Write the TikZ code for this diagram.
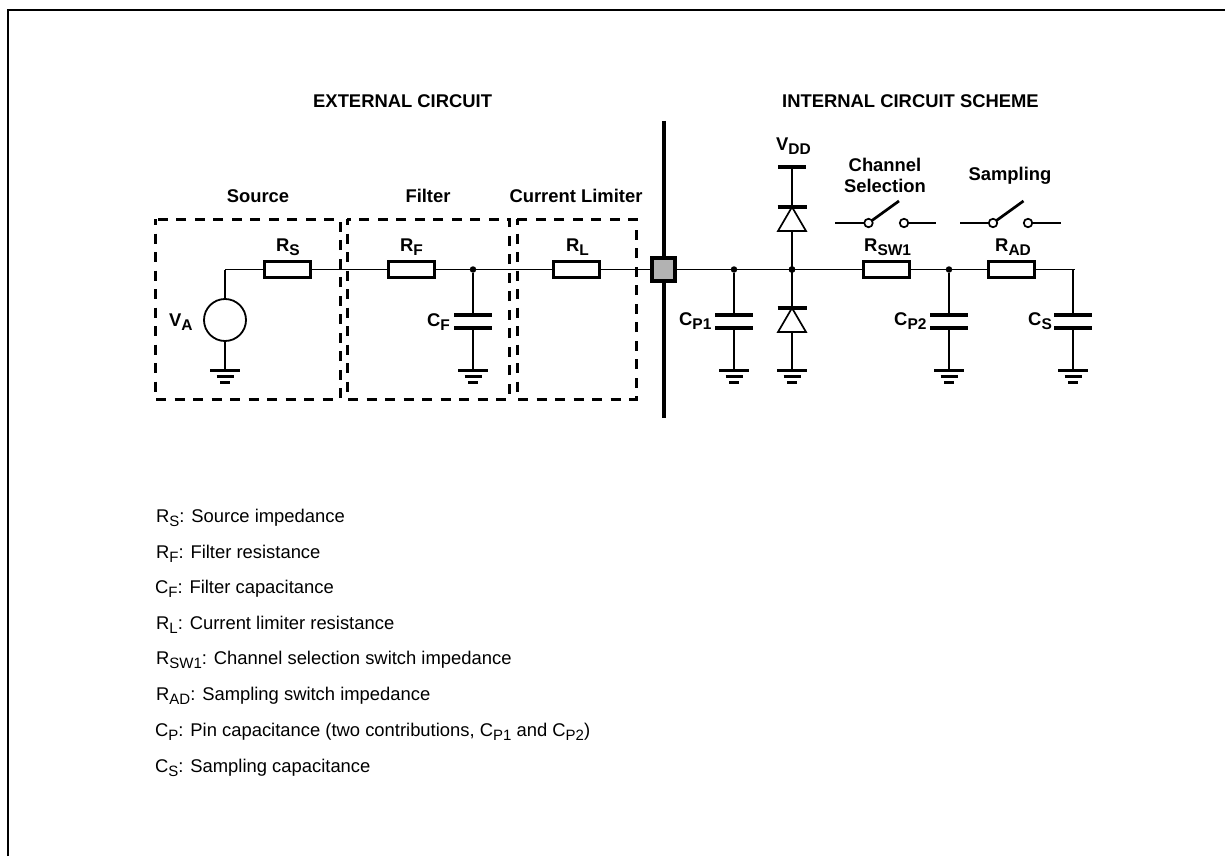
\documentclass[tikz,border=0pt]{standalone}
\usepackage{fontspec}
\setmainfont{Liberation Sans}
\usetikzlibrary{calc}
\newcommand{\bsub}[1]{\raisebox{-0.26em}{\fontsize{15.5}{16}\selectfont #1}}
\newcommand{\lsub}[1]{\raisebox{-0.26em}{\fontsize{15}{16}\selectfont #1}}
\tikzset{
  x=1pt,y=-1pt,
  wire/.style={line width=1.1pt,black},
  frame/.style={line width=2pt,black},
  resbox/.style={draw,line width=3pt,fill=white,minimum width=46.5pt,minimum height=16.5pt,inner sep=0pt,outer sep=0pt},
  zone/.style={line width=3pt,dash pattern=on 10pt off 8.5pt,dash phase=4pt},
  junction/.style={circle,fill=black,inner sep=0pt,minimum size=6.5pt},
  plate/.style={line width=4pt},
  railbar/.style={line width=3.5pt},
  contact/.style={circle,draw,line width=1.7pt,fill=white,inner sep=0pt,minimum size=8.5pt,outer sep=0pt},
  lever/.style={line width=2.7pt},
  head/.style={font=\fontsize{18.4}{21}\selectfont\bfseries,align=center,inner sep=0pt},
  item/.style={font=\fontsize{18.4}{21}\selectfont,anchor=base west,inner sep=0pt},
  gnd1/.style={line width=3pt},
  diodetri/.style={line width=1.7pt,fill=white,line join=miter},
}
\newcommand{\gnd}[1]{%
  \draw[gnd1] ([xshift=-15pt]#1) -- ([xshift=15pt]#1);
  \draw[gnd1] ([xshift=-8.5pt,yshift=-6.5pt]#1) -- ([xshift=8.5pt,yshift=-6.5pt]#1);
  \draw[gnd1] ([xshift=-5pt,yshift=-12.5pt]#1) -- ([xshift=5pt,yshift=-12.5pt]#1);
}
\newcommand{\capac}[2]{%
  \coordinate (#1top) at (#2,315);
  \coordinate (#1bot) at (#2,328);
  \draw[plate] ([xshift=-19pt]#1top) -- ([xshift=19pt]#1top);
  \draw[plate] ([xshift=-19pt]#1bot) -- ([xshift=19pt]#1bot);
  \coordinate (#1gnd) at (#2,370);
  \draw[wire] (#1bot) -- (#1gnd);
  \gnd{#1gnd}
}
\newcommand{\swtch}[5]{% name, xl, c1, c2, xr
  \coordinate (#1l) at (#2,223);
  \coordinate (#1r) at (#5,223);
  \node[contact] (#1a) at (#3,223) {};
  \node[contact] (#1b) at (#4,223) {};
  \coordinate (#1tip) at ($(#3,201)+(30.5,0)$);
  \draw[wire] (#1l) -- (#1a);
  \draw[wire] (#1b) -- (#1r);
  \draw[lever] (#1a) -- (#1tip);
}
\begin{document}
\begin{tikzpicture}
\useasboundingbox (0,0) rectangle (1225,856);
\fill[white] (0,0) rectangle (1225,856);
\coordinate (fa) at (8,856);
\coordinate (fb) at (8,10);
\coordinate (fc) at (1225,10);
\draw[frame] (fa) -- (fb) -- (fc);

% headings
\node[head,anchor=west] (hext) at (313,101) {EXTERNAL CIRCUIT};
\node[head,anchor=west] (hint) at (782,101) {INTERNAL CIRCUIT SCHEME};
\node[head] (hsrc) at (258,196) {Source};
\node[head] (hfil) at (428,196) {Filter};
\node[head] (hlim) at (576,196) {Current Limiter};
\node[head] (hch) at (885,175) {Channel\\Selection};
\node[head] (hsam) at (1010,176) {Sampling};

% zones
\draw[zone] (155,219) rectangle (340,399);
\draw[zone] (347,219) rectangle (509,399);
\draw[zone] (517,219) rectangle (636,399);

% separator and pad
\coordinate (sept) at (664,121);
\coordinate (sepb) at (664,418);
\draw[line width=4pt] (sept) -- (sepb);

% wires
\coordinate (vtop) at (225,269.5);
\coordinate (vbot) at (225,370);
\coordinate (wend) at (1075,269.5);
\node[draw,line width=4pt,fill=black!30,minimum width=23pt,minimum height=23pt,inner sep=0pt,outer sep=0pt] (pad) at (663.5,269.5) {};
\node[junction] (d1) at (473,269.5) {};
\node[junction] (d2) at (734,269.5) {};
\node[junction] (d3) at (792,269.5) {};
\node[junction] (d4) at (949,269.5) {};
\coordinate (cst) at (1073,269.5);

\draw[wire] (vtop) -- (pad.west);
\draw[wire] (pad.east) -- (wend);
\draw[wire] (vtop) -- (225,298.5);

% resistors
\node[resbox] (rs) at (287.5,269.5) {};
\node[resbox] (rf) at (411.5,269.5) {};
\node[resbox] (rl) at (576.5,269.5) {};
\node[resbox] (rsw) at (886.5,269.5) {};
\node[resbox] (rad) at (1011.5,269.5) {};

% source
\node[circle,draw,line width=1.8pt,fill=white,minimum size=42pt,inner sep=0pt,outer sep=0pt] (va) at (225,320) {};
\draw[wire] (va.south) -- (vbot);
\gnd{vbot}

% capacitors
\capac{cf}{473}
\capac{cpa}{734}
\capac{cpb}{949}
\capac{cs}{1073}
\draw[wire] (d1) -- (cftop);
\draw[wire] (d2) -- (cpatop);
\draw[wire] (d4) -- (cpbtop);
\draw[wire] (cst) -- (cstop);

% diodes
\coordinate (vdd) at (792,167);
\coordinate (dua) at (792,207);
\coordinate (dla) at (792,308);
\coordinate (dgnd) at (792,370);
\draw[wire] (vdd) -- (dgnd);
\draw[railbar] (778,167) -- (806,167);
\draw[diodetri] (dua) -- (778,231) -- (806,231) -- cycle;
\draw[railbar] (777.5,207) -- (806.5,207);
\draw[diodetri] (dla) -- (778,332) -- (806,332) -- cycle;
\draw[railbar] (777.5,308) -- (806.5,308);
\gnd{dgnd}
\node[junction] at (d3) {};

% switches
\swtch{sa}{835}{868.5}{904}{936}
\swtch{sb}{960}{993}{1028}{1061}

% component labels
\node[head,anchor=base west] (lva) at (169,326) {V\bsub{A}};
\node[head,anchor=base west] (lrs) at (276,251) {R\bsub{S}};
\node[head,anchor=base west] (lrf) at (400,251) {R\bsub{F}};
\node[head,anchor=base west] (lrl) at (566,251) {R\bsub{L}};
\node[head,anchor=base west] (lcf) at (427,326) {C\bsub{F}};
\node[head,anchor=base west] (lcp1) at (679,325) {C\bsub{P1}};
\node[head,anchor=base west] (lvdd) at (776,150) {V\bsub{DD}};
\node[head,anchor=base west] (lcp2) at (894,325) {C\bsub{P2}};
\node[head,anchor=base west] (lcs) at (1028,325) {C\bsub{S}};
\node[head,anchor=base west] (lrsw) at (864,251) {R\bsub{SW1}};
\node[head,anchor=base west] (lrad) at (995,251) {R\bsub{AD}};

% legend
\node[item] (i1) at (156,522) {R\lsub{S}: Source impedance};
\node[item] (i2) at (156,558) {R\lsub{F}: Filter resistance};
\node[item] (i3) at (155,593) {C\lsub{F}: Filter capacitance};
\node[item] (i4) at (156,629) {R\lsub{L}: Current limiter resistance};
\node[item] (i5) at (156,664) {R\lsub{SW1}: Channel selection switch impedance};
\node[item] (i6) at (156,700) {R\lsub{AD}: Sampling switch impedance};
\node[item] (i7) at (155,736) {C\lsub{P}: Pin capacitance (two contributions, C\lsub{P1} and C\lsub{P2})};
\node[item] (i8) at (155,772) {C\lsub{S}: Sampling capacitance};
\end{tikzpicture}
\end{document}
